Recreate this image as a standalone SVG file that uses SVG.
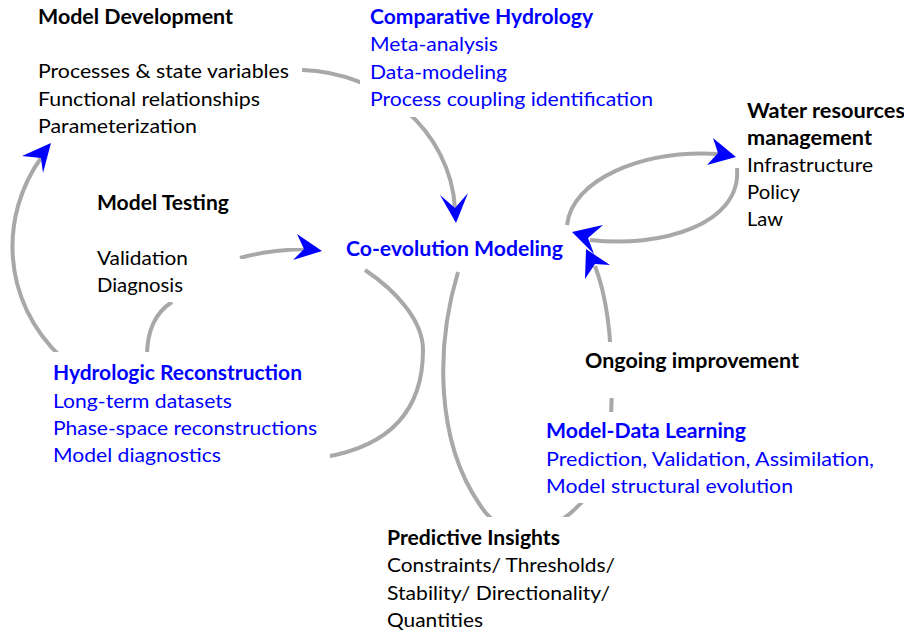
<svg xmlns="http://www.w3.org/2000/svg" width="904" height="631" viewBox="0 0 904 631">
<defs>
<style>
.t{font-family:Lato,"Liberation Sans",sans-serif;font-size:20px;fill:#000}
.b{font-weight:700}
.bl{fill:#0000ff}
.bg{fill:#fff}
.c{fill:none;stroke:#a8a8a8;stroke-width:4;stroke-linecap:butt;filter:url(#soft)}
.ah{fill:#0000ff}
</style>
<filter id="soft" x="-10%" y="-10%" width="120%" height="120%">
<feGaussianBlur stdDeviation="0.7"/>
</filter>
</defs>
<rect width="904" height="631" fill="#fff"/>
<g id="connectors">
<path class="c" d="M302,70 C380,72 450,130 455,208"/>
<path class="c" d="M240,258 Q268,250 304,249"/>
<path class="c" d="M62,358 C0,300 0,215 41,158"/>
<path class="c" d="M147,356 Q147,318 172,302"/>
<path class="c" d="M365,270 C395,290 423,320 423,350 C423,405 395,445 325,457"/>
<path class="c" d="M458,272 C436,345 435,440 480,505 C505,545 555,540 590,492"/>
<path class="c" d="M611,418 C613,370 612,310 595,266"/>
<path class="c" d="M567,225 C572,180 640,150 718,154"/>
<path class="c" d="M737,168 C742,225 660,248 590,240"/>
<polygon class="ah" points="456,223 440,195 455,208 468,193"/>
<polygon class="ah" points="322,251 297,234 304,249 293,260"/>
<polygon class="ah" points="51,143 22,156 41,158 43,173"/>
<polygon class="ah" points="736,157 713,138 718,153 707,165"/>
<polygon class="ah" points="572,232 603,225 588,238 594,254"/>
<polygon class="ah" points="586,249 610,265 595,264 585,279"/>
</g>
<g id="model-development">
<rect class="bg" x="30" y="0" width="270" height="138"/>
<text class="t b" x="38" y="24" textLength="195" lengthAdjust="spacingAndGlyphs">Model Development</text>
<text class="t" x="38" y="78" textLength="251" lengthAdjust="spacingAndGlyphs">Processes &amp; state variables</text>
<text class="t" x="38" y="105.5" textLength="222" lengthAdjust="spacingAndGlyphs">Functional relationships</text>
<text class="t" x="38" y="133" textLength="159" lengthAdjust="spacingAndGlyphs">Parameterization</text>
</g>
<g id="comparative-hydrology">
<rect class="bg" x="360" y="0" width="300" height="117"/>
<text class="t b bl" x="370" y="24" textLength="223" lengthAdjust="spacingAndGlyphs">Comparative Hydrology</text>
<text class="t bl" x="370" y="51" textLength="128" lengthAdjust="spacingAndGlyphs">Meta-analysis</text>
<text class="t bl" x="370" y="78.5" textLength="137" lengthAdjust="spacingAndGlyphs">Data-modeling</text>
<text class="t bl" x="370" y="106" textLength="283" lengthAdjust="spacingAndGlyphs">Process coupling identification</text>
</g>
<g id="water-resources">
<rect class="bg" x="742" y="95" width="162" height="140"/>
<text class="t b" x="747" y="118" textLength="158" lengthAdjust="spacingAndGlyphs">Water resources</text>
<text class="t b" x="747" y="145" textLength="125" lengthAdjust="spacingAndGlyphs">management</text>
<text class="t" x="747" y="172" textLength="126" lengthAdjust="spacingAndGlyphs">Infrastructure</text>
<text class="t" x="747" y="199" textLength="53" lengthAdjust="spacingAndGlyphs">Policy</text>
<text class="t" x="747" y="226" textLength="36" lengthAdjust="spacingAndGlyphs">Law</text>
</g>
<g id="model-testing">
<rect class="bg" x="88" y="188" width="150" height="114"/>
<text class="t b" x="97" y="210" textLength="132" lengthAdjust="spacingAndGlyphs">Model Testing</text>
<text class="t" x="97" y="265" textLength="91" lengthAdjust="spacingAndGlyphs">Validation</text>
<text class="t" x="97" y="292" textLength="86" lengthAdjust="spacingAndGlyphs">Diagnosis</text>
</g>
<g id="co-evolution-modeling">
<text class="t b bl" x="346" y="256" textLength="217" lengthAdjust="spacingAndGlyphs">Co-evolution Modeling</text>
</g>
<g id="hydrologic-reconstruction">
<rect class="bg" x="45" y="352" width="285" height="120"/>
<text class="t b bl" x="53" y="380" textLength="249" lengthAdjust="spacingAndGlyphs">Hydrologic Reconstruction</text>
<text class="t bl" x="53" y="407.5" textLength="179" lengthAdjust="spacingAndGlyphs">Long-term datasets</text>
<text class="t bl" x="53" y="434.5" textLength="264" lengthAdjust="spacingAndGlyphs">Phase-space reconstructions</text>
<text class="t bl" x="53" y="462" textLength="168" lengthAdjust="spacingAndGlyphs">Model diagnostics</text>
</g>
<g id="ongoing-improvement">
<rect class="bg" x="578" y="342" width="230" height="56"/>
<text class="t b" x="585" y="368" textLength="214" lengthAdjust="spacingAndGlyphs">Ongoing improvement</text>
</g>
<g id="model-data-learning">
<rect class="bg" x="538" y="412" width="345" height="91"/>
<text class="t b bl" x="546" y="438" textLength="200" lengthAdjust="spacingAndGlyphs">Model-Data Learning</text>
<text class="t bl" x="546" y="466" textLength="328" lengthAdjust="spacingAndGlyphs">Prediction, Validation, Assimilation,</text>
<text class="t bl" x="546" y="493" textLength="247" lengthAdjust="spacingAndGlyphs">Model structural evolution</text>
</g>
<g id="predictive-insights">
<rect class="bg" x="380" y="517" width="240" height="114"/>
<text class="t b" x="387" y="545" textLength="173" lengthAdjust="spacingAndGlyphs">Predictive Insights</text>
<text class="t" x="387" y="572" textLength="228" lengthAdjust="spacingAndGlyphs">Constraints/ Thresholds/</text>
<text class="t" x="387" y="599.5" textLength="223" lengthAdjust="spacingAndGlyphs">Stability/ Directionality/</text>
<text class="t" x="387" y="627" textLength="96" lengthAdjust="spacingAndGlyphs">Quantities</text>
</g>
</svg>
